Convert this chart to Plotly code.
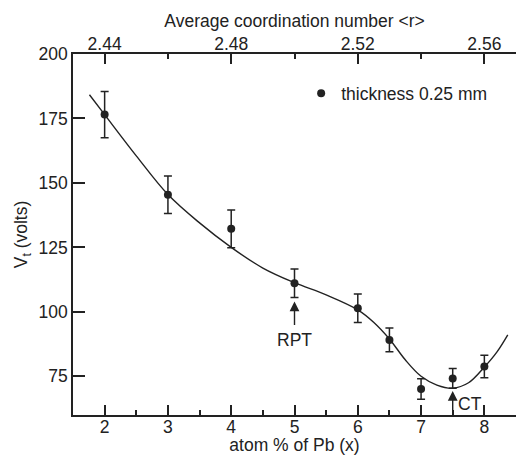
import plotly.graph_objects as go

# Measured data (atom % Pb vs threshold voltage)
pb_x = [2, 3, 4, 5, 6, 6.5, 7, 7.5, 8]
vt = [176.5, 145.4, 132.2, 111.1, 101.4, 89.1, 70.1, 74.2, 78.8]
vt_err = [9.0, 7.3, 7.3, 5.5, 5.5, 4.6, 4.0, 3.8, 4.4]

# Smooth guide curve
curve_x = [1.76, 2, 2.5, 3, 3.5, 4, 4.5, 5, 5.5, 6, 6.25, 6.5, 6.75, 7, 7.25, 7.5, 7.75, 8, 8.2, 8.37]
curve_y = [184.2, 176.5, 160.5, 145.5, 134.5, 125, 117, 111.3, 106.6, 100.8, 96, 89.5, 81.4, 75, 71.6, 70.4, 72.5, 78.6, 84.5, 91.1]

# Top axis: average coordination number
r_ticks = [2.44, 2.48, 2.52, 2.56]
r_of_x = [2.4 + 0.02 * v for v in pb_x]

bottom_ticks = [2, 3, 4, 5, 6, 7, 8]
left_ticks = [75, 100, 125, 150, 175, 200]

INK = "#222222"
FONT = "Liberation Sans, Arial, sans-serif"
FS = 17.5

fig = go.Figure()
fig.add_trace(go.Scatter(
    x=curve_x, y=curve_y, mode="lines", line=dict(color=INK, width=1.4, shape="spline", smoothing=1.0),
    showlegend=False, hoverinfo="skip"))
fig.add_trace(go.Scatter(
    x=pb_x, y=vt, mode="markers", name="thickness 0.25 mm",
    marker=dict(color=INK, size=8),
    error_y=dict(type="data", array=vt_err, visible=True, color=INK, thickness=1.5, width=4)))
fig.add_trace(go.Scatter(
    x=r_of_x, y=vt, xaxis="x2", mode="markers", marker=dict(opacity=0),
    showlegend=False, hoverinfo="skip"))

axis_common = dict(showline=True, linecolor=INK, linewidth=1.5, showgrid=False, zeroline=False,
                   ticks="inside", tickcolor=INK, tickwidth=1.5,
                   tickfont=dict(family=FONT, size=FS, color=INK))

fig.update_layout(
    width=516, height=455,
    margin=dict(l=73, r=0, t=54, b=40),
    paper_bgcolor="white", plot_bgcolor="white",
    font=dict(family=FONT, size=FS, color=INK),
    xaxis=dict(range=[1.5, 8.5], tickvals=bottom_ticks, ticklen=10, ticklabelstandoff=-5,
               minor=dict(dtick=0.5, tick0=1.5, ticks="inside", ticklen=5, tickcolor=INK, tickwidth=1.5),
               title=dict(text="atom % of Pb (x)", font=dict(family=FONT, size=FS, color=INK), standoff=0),
               **axis_common),
    xaxis2=dict(range=[2.43, 2.57], overlaying="x", side="top", anchor="y",
                tickvals=r_ticks, ticktext=[f"{v:.2f}" for v in r_ticks], ticklen=10, ticklabelstandoff=-5,
                minor=dict(dtick=0.02, tick0=2.42, ticks="inside", ticklen=5, tickcolor=INK, tickwidth=1.5),
                title=dict(text="Average coordination number &lt;r&gt;", font=dict(family=FONT, size=FS, color=INK), standoff=2),
                **axis_common),
    yaxis=dict(range=[60, 200], tickvals=left_ticks, ticklen=12,
               title=dict(text="V<sub>t</sub> (volts)", font=dict(family=FONT, size=FS, color=INK), standoff=6),
               **axis_common),
    legend=dict(x=0.515, y=0.891, xanchor="left", yanchor="middle", bgcolor="rgba(0,0,0,0)",
                font=dict(family=FONT, size=FS, color=INK), itemwidth=30),
)

# RPT arrow and label
fig.add_annotation(x=5, y=104, ax=5, ay=94.3, xref="x", yref="y", axref="x", ayref="y",
                   text="", showarrow=True, arrowhead=2, arrowsize=1.4, arrowwidth=1.4, arrowcolor=INK)
fig.add_annotation(x=5, y=89, xref="x", yref="y", text="RPT", showarrow=False,
                   font=dict(family=FONT, size=FS, color=INK))
# CT arrow and label
fig.add_annotation(x=7.5, y=69.3, ax=7.5, ay=60, xref="x", yref="y", axref="x", ayref="y",
                   text="", showarrow=True, arrowhead=2, arrowsize=1.4, arrowwidth=1.4, arrowcolor=INK)
fig.add_annotation(x=7.78, y=64.3, xref="x", yref="y", text="CT", showarrow=False,
                   font=dict(family=FONT, size=FS, color=INK))

fig.write_html("out.html")
